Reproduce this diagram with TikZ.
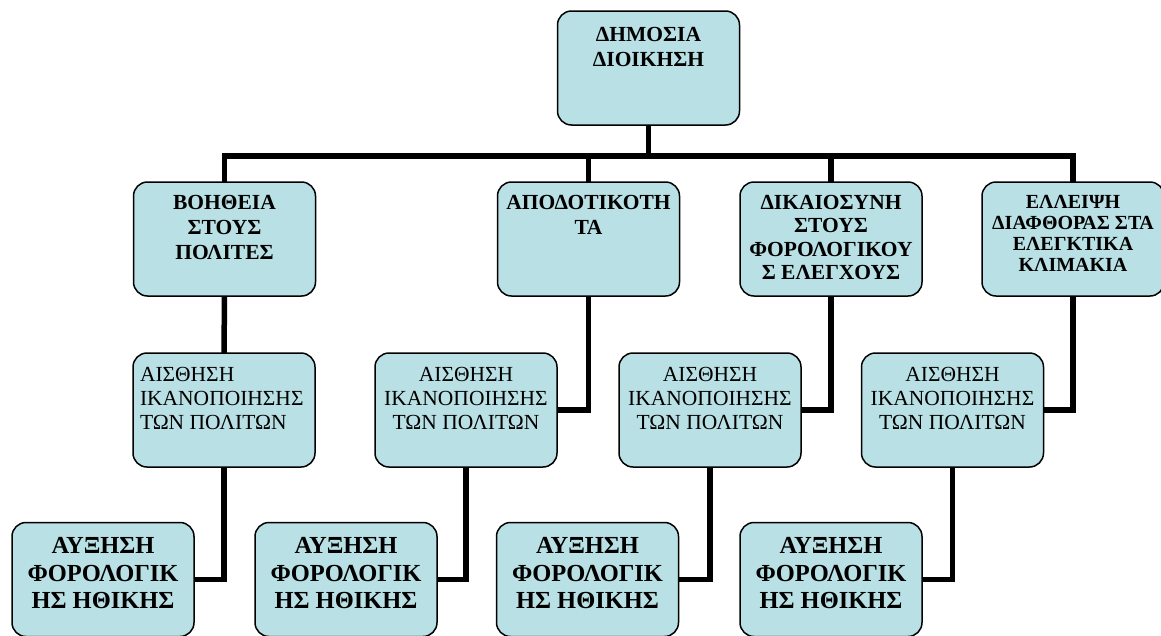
\documentclass[tikz,border=0pt]{standalone}
\usepackage{fontspec}
\setmainfont{Liberation Serif}
\usetikzlibrary{backgrounds}
\definecolor{boxfill}{RGB}{185,224,228}
% fixed-size, top-aligned box contents
\newcommand\cellc[2]{\parbox[c][114pt][t]{182pt}{\centering\vspace*{#1}#2\par}}
\newcommand\celll[2]{\parbox[c][114pt][t]{182pt}{\raggedright\leftskip=7pt\vspace*{#1}#2\par}}
\tikzset{
  box/.style={draw=black, line width=1.5pt, fill=boxfill, rounded corners=14pt,
              inner sep=0pt, outer sep=0pt},
  headbox/.style={box, font=\bfseries\fontsize{21.5}{25}\selectfont},
  goalbox/.style={box, font=\fontsize{21.5}{24}\selectfont},
  endbox/.style={box, font=\bfseries\fontsize{24.5}{27.5}\selectfont},
  link/.style={line width=5.5pt, line join=miter, line cap=butt},
}
\begin{document}
\begin{tikzpicture}[x=1pt, y=-1pt]
\useasboundingbox (0,0) rectangle (1161,635);

% top
\node[headbox] (T) at (648.5,68) {\cellc{16pt}{ΔΗΜΟΣΙΑ\\ΔΙΟΙΚΗΣΗ}};

% second level
\node[headbox] (A2) at (224.5,239) {\cellc{13pt}{ΒΟΗΘΕΙΑ\\ΣΤΟΥΣ\\ΠΟΛΙΤΕΣ}};
\node[headbox] (B2) at (588.5,239) {\cellc{13pt}{ΑΠΟΔΟΤΙΚΟΤΗ\\ΤΑ}};
\node[headbox, font=\bfseries\fontsize{21.5}{23.5}\selectfont] (C2) at (831,239)
  {\cellc{13pt}{ΔΙΚΑΙΟΣΥΝΗ\\ΣΤΟΥΣ\\ΦΟΡΟΛΟΓΙΚΟΥ\\Σ ΕΛΕΓΧΟΥΣ}};
\node[headbox, font=\bfseries\fontsize{20}{21}\selectfont] (D2) at (1073,239)
  {\cellc{13pt}{ΕΛΛΕΙΨΗ\\ΔΙΑΦΘΟΡΑΣ ΣΤΑ\\ΕΛΕΓΚΤΙΚΑ\\ΚΛΙΜΑΚΙΑ}};

% third level
\node[goalbox] (A3) at (224,410) {\celll{14pt}{ΑΙΣΘΗΣΗ\\ΙΚΑΝΟΠΟΙΗΣΗΣ\\ΤΩΝ ΠΟΛΙΤΩΝ}};
\node[goalbox] (B3) at (466,410) {\cellc{14pt}{ΑΙΣΘΗΣΗ\\ΙΚΑΝΟΠΟΙΗΣΗΣ\\ΤΩΝ ΠΟΛΙΤΩΝ}};
\node[goalbox] (C3) at (710,410) {\cellc{14pt}{ΑΙΣΘΗΣΗ\\ΙΚΑΝΟΠΟΙΗΣΗΣ\\ΤΩΝ ΠΟΛΙΤΩΝ}};
\node[goalbox] (D3) at (952.5,410) {\cellc{14pt}{ΑΙΣΘΗΣΗ\\ΙΚΑΝΟΠΟΙΗΣΗΣ\\ΤΩΝ ΠΟΛΙΤΩΝ}};

% bottom level
\node[endbox] (A4) at (103,579.5) {\cellc{15pt}{ΑΥΞΗΣΗ\\ΦΟΡΟΛΟΓΙΚ\\ΗΣ ΗΘΙΚΗΣ}};
\node[endbox] (B4) at (346,579.5) {\cellc{15pt}{ΑΥΞΗΣΗ\\ΦΟΡΟΛΟΓΙΚ\\ΗΣ ΗΘΙΚΗΣ}};
\node[endbox] (C4) at (587.5,579.5) {\cellc{15pt}{ΑΥΞΗΣΗ\\ΦΟΡΟΛΟΓΙΚ\\ΗΣ ΗΘΙΚΗΣ}};
\node[endbox] (D4) at (831,579.5) {\cellc{15pt}{ΑΥΞΗΣΗ\\ΦΟΡΟΛΟΓΙΚ\\ΗΣ ΗΘΙΚΗΣ}};

\begin{pgfonlayer}{background}
  \coordinate (bus) at (0,156);
  \draw[link] (T.south) -- (T.south |- bus);
  \draw[link] (A2.north) -- (A2.north |- bus) -- (D2.north |- bus) -- (D2.north);
  \draw[link] (B2.north) -- (B2.north |- bus);
  \draw[link] (C2.north) -- (C2.north |- bus);
  \draw[link] (A2.south) -- (A3.north);
  \draw[link] (B2.south) |- (B3.east);
  \draw[link] (C2.south) |- (C3.east);
  \draw[link] (D2.south) |- (D3.east);
  \draw[link] (A3.south) |- (A4.east);
  \draw[link] (B3.south) |- (B4.east);
  \draw[link] (C3.south) |- (C4.east);
  \draw[link] (D3.south) |- (D4.east);
\end{pgfonlayer}
\end{tikzpicture}
\end{document}
